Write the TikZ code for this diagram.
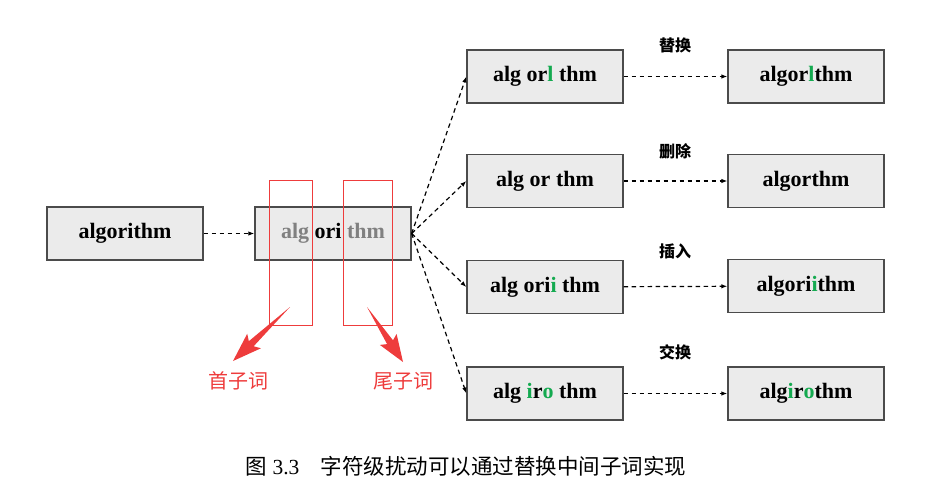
\documentclass[tikz,border=0pt]{standalone}
\usepackage{fontspec}
\setmainfont{Liberation Serif}
\newfontfamily\cjkfont{Noto Sans CJK SC}
\usetikzlibrary{
    positioning,
    arrows.meta,
    calc,
}
\definecolor{boxfill}{RGB}{235,235,235}
\definecolor{boxline}{RGB}{75,75,75}
\definecolor{subgreen}{RGB}{20,170,80}
\definecolor{subgray}{RGB}{128,128,128}
\definecolor{markred}{RGB}{238,60,60}
\tikzset{
    wordbox/.style={draw=boxline,fill=boxfill,line width=1.3pt,
                    minimum width=156pt,minimum height=53pt,inner sep=0pt,
                    font=\fontsize{22}{24}\selectfont\bfseries},
    flow/.style={line width=1.2pt,dash pattern=on 4.5pt off 3.5pt,
                 -{Latex[length=6pt,width=4.5pt]}},
    oplabel/.style={font=\cjkfont\bfseries\fontsize{16}{18}\selectfont},
    subword/.style={draw=markred,line width=1pt,inner sep=0pt},
    sublabel/.style={text=markred,font=\cjkfont\fontsize{20}{22}\selectfont},
}
\newcommand{\gr}[1]{\textcolor{subgreen}{#1}}
\newcommand{\gy}[1]{\textcolor{subgray}{#1}}
\begin{document}
\begin{tikzpicture}[x=1pt,y=-1pt]
    \pgfmathsetmacro\ColL{125}
    \pgfmathsetmacro\ColM{333}
    \pgfmathsetmacro\ColR{545}
    \pgfmathsetmacro\ColF{806}
    \pgfmathsetmacro\RowM{233.5}
    \pgfmathsetmacro\OpX{675}
    %
    \useasboundingbox (0,0) rectangle (942,492);
    %
        % Parola e scomposizione
    \node[wordbox] (orig) at (\ColL,\RowM) {algorithm};
    \node[wordbox] (split) at (\ColM,\RowM) {\gy{alg} ori \gy{thm}};
    \draw[flow] (orig) -- (split);
    %
        % Quattro perturbazioni
    \node[wordbox] (repa) at (\ColR,76.5) {alg or\gr{l} thm};
    \node[wordbox] (repb) at (\ColF,76.5) {algor\gr{l}thm};
    \node[oplabel] (repl) at (\OpX,45) {替换};
    %
    \node[wordbox] (dela) at (\ColR,181) {alg or thm};
    \node[wordbox] (delb) at (\ColF,181) {algorthm};
    \node[oplabel] (dell) at (\OpX,151) {删除};
    %
    \node[wordbox] (insa) at (\ColR,287) {alg ori\gr{i} thm};
    \node[wordbox] (insb) at (\ColF,286) {algori\gr{i}thm};
    \node[oplabel] (insl) at (\OpX,251) {插入};
    %
    \node[wordbox] (swpa) at (\ColR,393.5) {alg \gr{i}r\gr{o} thm};
    \node[wordbox] (swpb) at (\ColF,393.5) {alg\gr{i}r\gr{o}thm};
    \node[oplabel] (swpl) at (\OpX,352) {交换};
    %
    \draw[flow] (split.east) -- (repa.west);
    \draw[flow] (split.east) -- (dela.west);
    \draw[flow] (split.east) -- (insa.west);
    \draw[flow] (split.east) -- (swpa.west);
    %
    \draw[flow] (repa) -- (repb);
    \draw[flow] (dela) -- (delb);
    \draw[flow] (insa) -- (insb);
    \draw[flow] (swpa) -- (swpb);
    %
        % Sottoparole
    \node[subword,minimum width=43pt,minimum height=145pt] (headsub) at (290.5,252.5) {};
    \node[subword,minimum width=49pt,minimum height=145pt] (tailsub) at (367.5,252.5) {};
    %
    \node[sublabel] (headl) at (238,381) {首子词};
    \node[sublabel] (taill) at (403,381) {尾子词};
    %
    \coordinate (headfrom) at (290,307);
    \coordinate (headtip) at (233,361);
    \coordinate (tailfrom) at (367,307);
    \coordinate (tailtip) at (403,362);
    %
    \fill[markred] (headfrom)
        -- ($(headfrom)!0.68!(headtip)!3.5pt!90:(headtip)$)
        -- ($(headfrom)!0.63!(headtip)!10pt!90:(headtip)$)
        -- (headtip)
        -- ($(headfrom)!0.63!(headtip)!10pt!-90:(headtip)$)
        -- ($(headfrom)!0.68!(headtip)!3.5pt!-90:(headtip)$)
        -- cycle;
    \fill[markred] (tailfrom)
        -- ($(tailfrom)!0.64!(tailtip)!3.5pt!90:(tailtip)$)
        -- ($(tailfrom)!0.59!(tailtip)!10pt!90:(tailtip)$)
        -- (tailtip)
        -- ($(tailfrom)!0.59!(tailtip)!10pt!-90:(tailtip)$)
        -- ($(tailfrom)!0.64!(tailtip)!3.5pt!-90:(tailtip)$)
        -- cycle;
    %
        % Didascalia
    \node[font=\fontsize{21.5}{24}\selectfont] (caption) at (466,466)
        {{\cjkfont 图} 3.3\hspace{1em}{\cjkfont 字符级扰动可以通过替换中间子词实现}};
\end{tikzpicture}
\end{document}
